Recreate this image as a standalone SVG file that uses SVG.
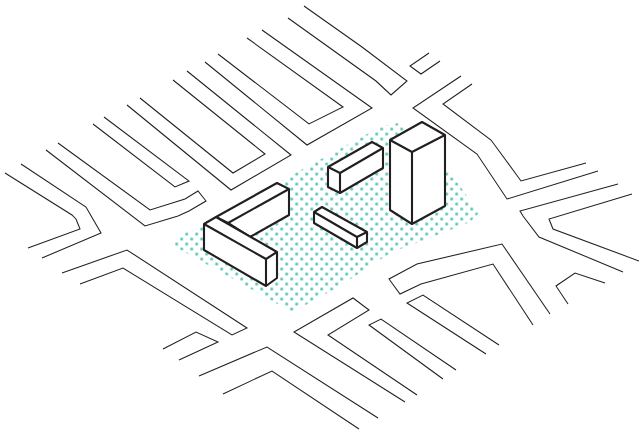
<svg xmlns="http://www.w3.org/2000/svg" width="639" height="432" viewBox="0 0 639 432">
<style>
.r{fill:none;stroke:#231f20;stroke-width:1.05;stroke-linejoin:miter}
.b{fill:#fff;stroke:#231f20;stroke-width:2.1;stroke-linejoin:round}
</style>
<defs>
<pattern id="dots" patternUnits="userSpaceOnUse" width="10" height="10" patternTransform="translate(4.2,1.5)">
<circle cx="2.5" cy="2.5" r="1.55" fill="#57c6b6"/>
<circle cx="7.5" cy="7.5" r="1.55" fill="#57c6b6"/>
</pattern>
</defs>
<rect width="639" height="432" fill="#fff"/>
<polygon id="site" fill="url(#dots)" points="174,244 184,233 200,228 290,176 380,127 398,123 440,158 479,213 470,222 425,240 392,252 340,286 302,307 292,312 174,246"/>
<g id="roads">
<polyline class="r" points="5,173 72,215 76,219 80,229 28,248"/>
<polyline class="r" points="21,164 86,207 90,214 101,233 42,258"/>
<polyline class="r" points="46,150 145,226 178,216 189,211 206,201 198,191 185,199 150,210 58,143"/>
<polyline class="r" points="93,124 175,187 189,181 104,117"/>
<polyline class="r" points="127,105 231,190 291,155 187,71"/>
<polyline class="r" points="140,98 233,173 265,154 173,80"/>
<polyline class="r" points="205,62 307,145 372,108 262,30"/>
<polyline class="r" points="218,54 309,124 343,107 247,38"/>
<polyline class="r" points="304,6 362,47 407,81 391,95 376,81 288,18"/>
<polyline class="r" points="429,53 410,66 421,74 440,61"/>
<polyline class="r" points="461,76 413,108 477,154 507,199 598,171"/>
<polyline class="r" points="472,84 443,104 491,140 521,181 586,163"/>
<polyline class="r" points="618,184 520,211 523,216 539,237 623,272"/>
<polyline class="r" points="632,194 549,219 553,229 639,261"/>
<polyline class="r" points="568,304 556,286 575,273 605,283"/>
<polyline class="r" points="550,314 502,244 417,264 389,279 400,294 421,284 493,264 533,325"/>
<polyline class="r" points="499,345 423,295 407,303 486,354"/>
<polyline class="r" points="456,370 381,319 369,325 443,379"/>
<polyline class="r" points="417,395 328,335 369,310 353,298 294,332 405,402"/>
<polyline class="r" points="378,418 267,347 199,376"/>
<polyline class="r" points="359,429 272,371 223,394"/>
<polyline class="r" points="62,273 127,250 247,328 232,335 123,268 80,284"/>
<polyline class="r" points="163,349 196,332 218,342 179,360"/>
</g>
<g id="building-back-wing">
<polygon class="b" points="216,217 277,183 289,189 289,215 250,237 228,223"/>
<polyline class="b" style="fill:none" points="228,223 289,189"/>
</g>
<g id="building-front-wing">
<polygon class="b" points="204,224 216,217 277,252 277,278 266,286 204,250"/>
<polyline class="b" style="fill:none" points="204,224 266,259 277,252"/>
<line class="b" x1="266" y1="259" x2="266" y2="286"/>
</g>
<g id="building-mid">
<polygon class="b" points="328,167 372,142 383,148 383,168 340,193 328,187"/>
<polyline class="b" style="fill:none" points="328,167 340,173 383,148"/>
<line class="b" x1="340" y1="173" x2="340" y2="193"/>
</g>
<g id="building-small">
<polygon class="b" points="314,212 322,207 367,232 367,242 357,248 314,223"/>
<polyline class="b" style="fill:none" points="314,212 357,237 367,232"/>
<line class="b" x1="357" y1="237" x2="357" y2="248"/>
</g>
<g id="building-tower">
<polygon class="b" points="390,140 422,122 445,135 445,206 412,224 390,210"/>
<polyline class="b" style="fill:none" points="390,140 412,152 445,135"/>
<line class="b" x1="412" y1="152" x2="412" y2="224"/>
</g>
</svg>
